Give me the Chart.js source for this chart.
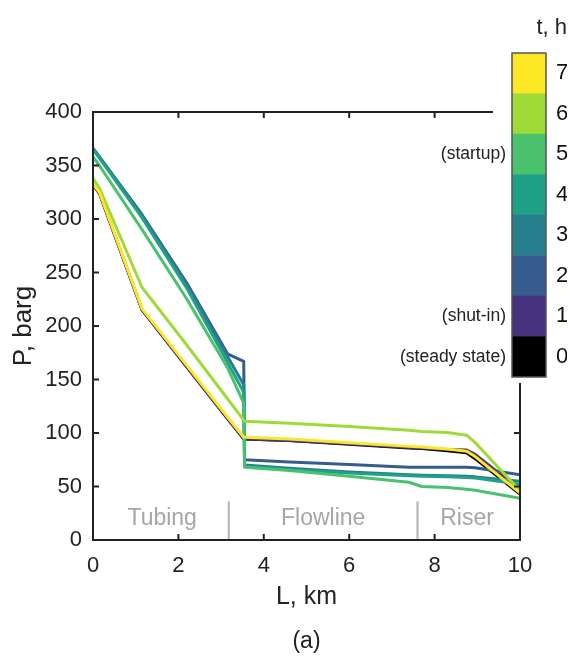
<!DOCTYPE html>
<html><head><meta charset="utf-8">
<script src="https://cdn.jsdelivr.net/npm/chart.js@4.4.1/dist/chart.umd.min.js"></script>
<style>
html,body{margin:0;padding:0;background:#fff;}
#wrap{position:relative;width:573px;height:657px;overflow:hidden;}
#main{position:absolute;left:0;top:0;}
#cbar{position:absolute;left:385px;top:0;}
</style></head><body>
<div id="wrap">
<canvas id="main" width="573" height="657"></canvas>
<canvas id="cbar" width="188" height="383"></canvas>
</div>
<script>
// ---- data ----
const L_km = [0, 0.15, 1.15, 2.2, 3.15, 3.53, 3.55, 4.6, 6.0, 7.4, 7.7, 8.3, 8.75, 8.95, 10];
const P_t0 = [332, 324, 215, 161.5, 113.5, 94.5, 94.5, 93, 89.5, 86, 85.5, 83.5, 81.5, 76, 43];
const P_t1 = [332, 324, 215, 161.5, 113.5, 94.5, 94.5, 93, 90, 86.5, 86, 84.5, 84, 80, 47];
const P_t2 = [366, 358, 304, 240, 174, 167, 75, 73, 70.5, 68, 68, 68, 68, 67.5, 61];
const P_t3 = [366, 358, 303, 238, 171.5, 145, 70, 67, 63.5, 61, 60.5, 60, 59.5, 59, 55];
const P_t4 = [365, 357, 301, 235, 166, 138, 69, 66, 62.5, 60, 59.5, 59, 58.5, 58, 52];
const P_t5 = [358, 350, 290, 225, 161, 128, 68, 65, 59.5, 54, 50, 49, 47.5, 46.5, 39];
const P_t6 = [338, 329, 236, 182, 132, 112, 111, 109, 106, 102.5, 101.5, 100.5, 98, 91, 46];
const P_t7 = [333, 325, 216, 163, 115, 96, 96, 94.5, 91, 87.5, 87, 85, 83, 78, 44];
const seriesP = [P_t0, P_t1, P_t2, P_t3, P_t4, P_t5, P_t6, P_t7];
const timeLabels = [0, 1, 2, 3, 4, 5, 6, 7];
const seriesColors = ['#000000', '#46327e', '#365c8d', '#277f8e', '#1fa187', '#4ac16d', '#a0da39', '#fde725'];
const stateLabels = {0: '(steady state)', 1: '(shut-in)', 5: '(startup)'};
const xTicks = [0, 2, 4, 6, 8, 10];
const yTicks = [0, 50, 100, 150, 200, 250, 300, 350, 400];
const sectionNames = ['Tubing', 'Flowline', 'Riser'];
const sectionCenters = [1.62, 5.39, 8.76];
const sectionBounds = [3.18, 7.6];
const sectionLabelP = 19.5;
const sectionLineTopP = 36;

const FONT = '"Liberation Sans", Arial, Helvetica, sans-serif';

// datasets: last time drawn on top
const datasets = [];
for (let i = timeLabels.length - 1; i >= 0; i--) {
  datasets.push({
    label: 't = ' + timeLabels[i] + ' h',
    data: L_km.map((l, k) => ({x: l, y: seriesP[i][k]})),
    borderColor: seriesColors[i],
    backgroundColor: seriesColors[i],
    borderWidth: 3,
    pointRadius: 0,
    showLine: true,
    tension: 0,
    fill: false,
    borderJoinStyle: 'round'
  });
}

const framePlugin = {
  id: 'frame',
  afterDraw(chart) {
    const {ctx, chartArea: a, scales: {x, y}} = chart;
    ctx.save();
    // section markers
    ctx.strokeStyle = '#b8b8b8';
    ctx.lineWidth = 2.2;
    ctx.beginPath();
    sectionBounds.forEach(b => {
      const px = x.getPixelForValue(b);
      ctx.moveTo(px, y.getPixelForValue(0));
      ctx.lineTo(px, y.getPixelForValue(sectionLineTopP));
    });
    ctx.stroke();
    ctx.fillStyle = '#a6a6a6';
    ctx.font = '23px ' + FONT;
    ctx.textAlign = 'center';
    ctx.textBaseline = 'middle';
    sectionNames.forEach((n, i) => {
      ctx.fillText(n, x.getPixelForValue(sectionCenters[i]), y.getPixelForValue(sectionLabelP));
    });
    // box
    ctx.strokeStyle = '#222';
    ctx.lineWidth = 2;
    ctx.strokeRect(a.left, a.top, a.right - a.left, a.bottom - a.top);
    // inward ticks
    ctx.beginPath();
    xTicks.forEach(v => {
      const px = x.getPixelForValue(v);
      ctx.moveTo(px, a.bottom); ctx.lineTo(px, a.bottom - 6);
      ctx.moveTo(px, a.top); ctx.lineTo(px, a.top + 6);
    });
    yTicks.forEach(v => {
      const py = y.getPixelForValue(v);
      ctx.moveTo(a.left, py); ctx.lineTo(a.left + 6, py);
      ctx.moveTo(a.right, py); ctx.lineTo(a.right - 6, py);
    });
    ctx.stroke();
    ctx.restore();
  }
};

new Chart(document.getElementById('main'), {
  type: 'scatter',
  data: {datasets},
  options: {
    responsive: false,
    animation: false,
    layout: {padding: {top: 112, right: 53, left: 0, bottom: 0}},
    plugins: {
      legend: {display: false},
      tooltip: {enabled: false},
      title: {display: true, position: 'bottom', fullSize: false, text: '(a)', color: '#222',
        font: {family: FONT, size: 23, weight: 'normal'}, padding: {top: 5, bottom: 2}}
    },
    scales: {
      x: {
        type: 'linear', min: 0, max: 10,
        afterBuildTicks: s => { s.ticks = xTicks.map(v => ({value: v})); },
        afterFit: s => { s.height = 82.4; },
        grid: {display: false, drawTicks: false},
        border: {display: false},
        ticks: {padding: 13, color: '#222', font: {family: FONT, size: 22}},
        title: {display: true, text: 'L, km', color: '#222', font: {family: FONT, size: 25}, padding: {bottom: 10.4}}
      },
      y: {
        type: 'linear', min: 0, max: 400,
        afterBuildTicks: s => { s.ticks = yTicks.map(v => ({value: v})); },
        afterFit: s => { s.width = 93; },
        grid: {display: false, drawTicks: false},
        border: {display: false},
        ticks: {padding: 11, color: '#222', font: {family: FONT, size: 22}},
        title: {display: true, text: 'P, barg', color: '#222', font: {family: FONT, size: 26}, padding: {top: 8.5}}
      }
    }
  },
  plugins: [framePlugin]
});

// ---- colour bar ----
const cbBg = {
  id: 'cbBg',
  beforeDraw(chart) {
    const {ctx, chartArea: a, width, height} = chart;
    ctx.save();
    ctx.fillStyle = '#fff';
    ctx.fillRect(a.left - 19, 0, width, height);
    ctx.restore();
  },
  afterDatasetsDraw(chart) {
    const {ctx, chartArea: a} = chart;
    ctx.save();
    ctx.strokeStyle = '#555';
    ctx.lineWidth = 1.5;
    ctx.strokeRect(a.left, a.top, a.right - a.left, a.bottom - a.top);
    ctx.restore();
  }
};

const noPad = s => { s.paddingTop = 0; s.paddingBottom = 0; };

new Chart(document.getElementById('cbar'), {
  type: 'bar',
  data: {
    labels: [''],
    datasets: timeLabels.map((t, i) => ({
      label: 't = ' + t, data: [1], backgroundColor: seriesColors[i],
      borderWidth: 0, barPercentage: 1, categoryPercentage: 1
    }))
  },
  options: {
    responsive: false,
    animation: false,
    layout: {padding: {top: 0, right: 6, bottom: 6, left: 0}},
    plugins: {
      legend: {display: false},
      tooltip: {enabled: false},
      title: {display: true, text: 't, h', align: 'end', color: '#222',
        font: {family: FONT, size: 22, weight: 'normal'}, padding: {top: 15, bottom: 11.6}}
    },
    scales: {
      x: {stacked: true, display: false},
      y: {
        stacked: true, position: 'right', min: 0, max: 8,
        grid: {display: false, drawTicks: false}, border: {display: false},
        afterBuildTicks: s => { s.ticks = timeLabels.map(t => ({value: t + 0.5})); },
        afterFit: s => { s.width = 21; noPad(s); },
        ticks: {padding: 10, color: '#111', font: {family: FONT, size: 22},
          callback: v => String(Math.round(v - 0.5))}
      },
      yL: {
        position: 'left', min: 0, max: 8,
        grid: {display: false, drawTicks: false}, border: {display: false},
        afterBuildTicks: s => { s.ticks = Object.keys(stateLabels).map(k => ({value: +k + 0.5})); },
        afterFit: s => { s.width = 127; noPad(s); },
        ticks: {padding: 6, color: '#222', font: {family: FONT, size: 17.5},
          callback: v => stateLabels[Math.round(v - 0.5)]}
      }
    }
  },
  plugins: [cbBg]
});
</script>
</body></html>
